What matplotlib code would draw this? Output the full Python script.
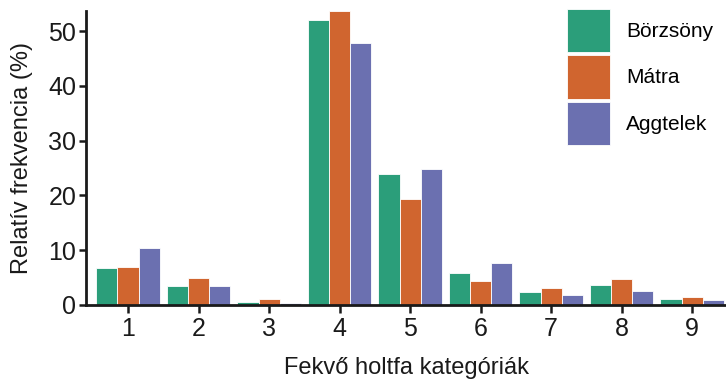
import numpy as np
import matplotlib
matplotlib.use("Agg")
import matplotlib.pyplot as plt
from matplotlib.patches import Patch

# Relative frequency (%) of lying deadwood categories per region
categories = [1, 2, 3, 4, 5, 6, 7, 8, 9]
borzsony = [6.8, 3.4, 0.6, 52.1, 23.9, 5.8, 2.4, 3.7, 1.1]
matra = [6.9, 5.0, 1.1, 53.7, 19.3, 4.4, 3.1, 4.7, 1.5]
aggtelek = [10.4, 3.5, 0.4, 47.8, 24.8, 7.6, 1.8, 2.6, 0.9]

series = [("Börzsöny", borzsony, "#2b9e7a"),
          ("Mátra", matra, "#d0652f"),
          ("Aggtelek", aggtelek, "#6b70b0")]

plt.rcParams['font.family'] = ['Liberation Sans', 'DejaVu Sans']

fig = plt.figure(figsize=(7.26, 3.87), dpi=100)
ax = fig.add_axes([0.1185, 0.2119, 0.8815, 0.760])

x = np.array(categories, dtype=float)
w = 0.3
handles = []
for i, (name, vals, col) in enumerate(series):
    ax.bar(x + (i - 1) * w, vals, width=w, color=col, edgecolor="white", linewidth=0.6)
    handles.append(Patch(facecolor=col, edgecolor="white", linewidth=0.6, label=name))

ax.set_xlim(0.404, 9.48)
ax.set_ylim(0, 53.7)
ax.set_xticks(categories)
ax.set_yticks([0, 10, 20, 30, 40, 50])

for s in ["top", "right"]:
    ax.spines[s].set_visible(False)
for s in ["left", "bottom"]:
    ax.spines[s].set_linewidth(2.0)
    ax.spines[s].set_color("#1a1a1a")

ax.tick_params(axis="both", labelsize=18, width=1.8, color="#1a1a1a", labelcolor="#1a1a1a")
ax.tick_params(axis="x", length=6, pad=3)
ax.tick_params(axis="y", length=5, pad=2)

ax.set_xlabel("Fekvő holtfa kategóriák", fontsize=17, color="#1a1a1a", labelpad=11)
ax.set_ylabel("Relatív frekvencia (%)", fontsize=17, color="#1a1a1a", labelpad=11)

ax.legend(handles=handles, loc="upper left", bbox_to_anchor=(567 / 726, 1 - 9 / 387),
          bbox_transform=fig.transFigure, frameon=False, fontsize=15,
          handlelength=2.05, handleheight=2.82, labelspacing=0.15,
          handletextpad=0.8, borderpad=0, borderaxespad=0)

fig.savefig("out.png", dpi=100)
